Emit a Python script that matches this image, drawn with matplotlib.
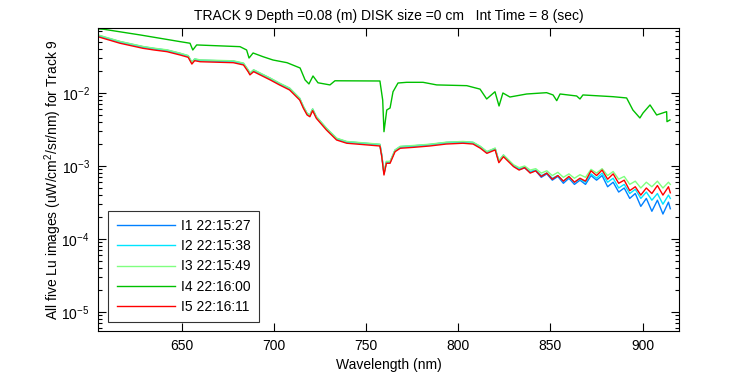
import matplotlib
matplotlib.use('Agg')
import matplotlib.pyplot as plt
from matplotlib.ticker import LogLocator, FixedLocator, NullFormatter, FuncFormatter
import numpy as np

plt.rcParams['font.family'] = ['Liberation Sans', 'DejaVu Sans']
plt.rcParams['mathtext.fontset'] = 'custom'
plt.rcParams['mathtext.rm'] = 'Liberation Sans'
plt.rcParams['mathtext.it'] = 'Liberation Sans'

# upper curve (I4), its own wavelength grid
wl_i4 = [605, 607.5, 627.4, 649.1, 654.5, 656.0, 658.1, 681.6, 685.2, 686.5, 688.7, 694.1,
         699.5, 707.1, 714.2, 716.9, 719.0, 721.2, 723.9, 730.4, 733.1, 757.5, 759.0, 759.7,
         761.2, 763.0, 764.6, 767.3, 772.0, 780.9, 788.3, 804.6, 811.8, 815.4, 819.9, 822.1,
         824.2, 828.0, 837.1, 847.9, 851.4, 853.4, 855.2, 864.2, 866.0, 867.6, 883.9, 891.3,
         894.7, 898.5, 900.2, 904.0, 907.6, 913.0, 913.2, 914.8]
i4 = [0.0754, 0.0747, 0.0624, 0.0505, 0.048, 0.0388, 0.0455, 0.0431, 0.0388, 0.0301, 0.0353, 0.0314,
      0.0283, 0.026, 0.022, 0.0151, 0.0133, 0.0171, 0.0138, 0.0129, 0.0147, 0.0146, 0.008, 0.00295,
      0.00585, 0.00623, 0.0104, 0.0137, 0.014, 0.014, 0.0129, 0.0126, 0.0113, 0.00828, 0.0104, 0.00664,
      0.01, 0.00881, 0.00969, 0.0101, 0.0094, 0.00785, 0.00969, 0.0091, 0.00828, 0.0094, 0.0089, 0.00855,
      0.00585, 0.00455, 0.00532, 0.00686, 0.005, 0.00555, 0.00405, 0.00427]

# lower curves (I1, I2, I3, I5) share one grid
wl = [605, 616.5, 629, 635, 642, 649, 653.5, 655.5, 657, 660, 678, 683.5, 686, 687, 689, 692.5,
      698, 703, 708.5, 714, 716, 718, 719.5, 721, 723, 728.5, 734, 739.5, 757.5, 758.5, 759.7,
      761, 763, 765.7, 768.5, 775.5, 784.5, 793.5, 802.5, 808, 812, 815.5, 820, 822, 824.5,
      830, 833, 836, 839, 842, 845, 848, 851, 854, 857, 860, 863, 866, 869, 872, 875, 878,
      881, 884, 887, 890, 893, 896, 899, 902, 905, 908, 911, 914, 915]

i1 = [0.0612, 0.0505, 0.0430, 0.0407, 0.0386, 0.0349, 0.0323, 0.0262, 0.0291, 0.0281, 0.0273, 0.0254,
      0.0206, 0.0186, 0.0206, 0.0186, 0.0159, 0.0135, 0.0116, 0.0084, 0.0065, 0.00525, 0.00497, 0.00602,
      0.00473, 0.00327, 0.00238, 0.00215, 0.00197, 0.00141, 0.00079, 0.00114, 0.00114, 0.00165, 0.00184,
      0.00189, 0.00197, 0.0021, 0.00215, 0.0021, 0.00184, 0.00156, 0.00174, 0.00117, 0.00141,
      0.00100, 0.00090, 0.00094, 0.00082, 0.00086, 0.00070, 0.00078, 0.00064, 0.00072, 0.00058,
      0.00068, 0.00056, 0.00064, 0.00056, 0.00074, 0.00064, 0.00074, 0.00052, 0.00060, 0.00044,
      0.00050, 0.00036, 0.00042, 0.00028, 0.00036, 0.00024, 0.00034, 0.00022, 0.00032, 0.00026]

i2 = [0.0600, 0.0494, 0.0421, 0.0400, 0.0379, 0.0342, 0.0317, 0.0256, 0.0285, 0.0276, 0.0268, 0.0249,
      0.0202, 0.0182, 0.0202, 0.0182, 0.0156, 0.0133, 0.0113, 0.0082, 0.00636, 0.00515, 0.00487, 0.0059,
      0.00464, 0.0032, 0.00234, 0.00211, 0.00194, 0.00138, 0.00078, 0.00112, 0.00112, 0.00162, 0.0018,
      0.00185, 0.00194, 0.00206, 0.00211, 0.00206, 0.0018, 0.00153, 0.00171, 0.00114, 0.00138,
      0.00101, 0.00092, 0.00096, 0.00084, 0.00088, 0.00074, 0.00080, 0.00068, 0.00074, 0.00062,
      0.00070, 0.00060, 0.00066, 0.00060, 0.00078, 0.00068, 0.00080, 0.00060, 0.00068, 0.00050,
      0.00056, 0.00042, 0.00048, 0.00036, 0.00044, 0.00034, 0.00042, 0.00030, 0.00040, 0.00036]

i3 = [0.0620, 0.0509, 0.0434, 0.0411, 0.0390, 0.0352, 0.0326, 0.0264, 0.0294, 0.0284, 0.0276, 0.0257,
      0.0208, 0.0188, 0.0208, 0.0188, 0.0160, 0.0137, 0.0117, 0.0085, 0.00654, 0.0053, 0.00501, 0.00607,
      0.00477, 0.0033, 0.00241, 0.00217, 0.00199, 0.00142, 0.0008, 0.00116, 0.00116, 0.00166, 0.00186,
      0.00191, 0.00199, 0.00212, 0.00217, 0.00212, 0.00186, 0.00158, 0.00176, 0.00118, 0.00142,
      0.00104, 0.00095, 0.00100, 0.00088, 0.00092, 0.00080, 0.00086, 0.00074, 0.00082, 0.00070,
      0.00078, 0.00068, 0.00076, 0.00070, 0.00090, 0.00080, 0.00092, 0.00074, 0.00084, 0.00066,
      0.00072, 0.00056, 0.00062, 0.00050, 0.00060, 0.00052, 0.00062, 0.00050, 0.00060, 0.00056]

i5 = [0.0585, 0.048, 0.0409, 0.0388, 0.0368, 0.0332, 0.0308, 0.0249, 0.0277, 0.0268, 0.026, 0.0242,
      0.0196, 0.0177, 0.0196, 0.0177, 0.0151, 0.0129, 0.011, 0.008, 0.00617, 0.005, 0.00473, 0.00573,
      0.0045, 0.00311, 0.00227, 0.00205, 0.00188, 0.00134, 0.000753, 0.00109, 0.00109, 0.00157, 0.00175,
      0.0018, 0.00188, 0.0020, 0.00205, 0.0020, 0.00175, 0.00149, 0.00166, 0.00111, 0.00134,
      0.00098, 0.00088, 0.00095, 0.00080, 0.00086, 0.00072, 0.00080, 0.00066, 0.00074, 0.00062,
      0.00072, 0.00060, 0.00068, 0.00062, 0.00086, 0.00074, 0.00088, 0.00066, 0.00078, 0.00058,
      0.00064, 0.00046, 0.00052, 0.00040, 0.00050, 0.00042, 0.00054, 0.00040, 0.00052, 0.00043]

labels = ['I1 22:15:27', 'I2 22:15:38', 'I3 22:15:49', 'I4 22:16:00', 'I5 22:16:11']
colors = ['#0080ff', '#00e5ff', '#80ff80', '#00c000', '#ff0000']

fig = plt.figure(figsize=(7.5, 3.75), dpi=100)
ax = fig.add_axes([0.1307, 0.1173, 0.7746, 0.808])

ax.plot(wl, i1, color=colors[0], lw=1, label=labels[0])
ax.plot(wl, i2, color=colors[1], lw=1, label=labels[1])
ax.plot(wl, i3, color=colors[2], lw=1, label=labels[2])
ax.plot(wl_i4, i4, color=colors[3], lw=1, label=labels[3])
ax.plot(wl, i5, color=colors[4], lw=1, label=labels[4])

ax.set_yscale('log')
ax.set_xlim(604.6, 919.7)
ax.set_ylim(5.5e-6, 0.0776)
ax.set_xticks([650, 700, 750, 800, 850, 900])
ax.yaxis.set_major_locator(FixedLocator([1e-5, 1e-4, 1e-3, 1e-2]))
ax.yaxis.set_major_formatter(FuncFormatter(lambda v, p: r'$\mathregular{10^{%d}}$' % round(np.log10(v))))
ax.yaxis.set_minor_locator(LogLocator(base=10, subs=np.arange(2, 10)))
ax.yaxis.set_minor_formatter(NullFormatter())

ax.tick_params(which='both', direction='in', top=True, right=True, labelsize=10, width=0.8)
ax.tick_params(which='major', length=6, pad=6)
ax.tick_params(which='minor', length=3)
for s in ax.spines.values():
    s.set_linewidth(0.8)

ax.set_xlabel('Wavelength (nm)', fontsize=10, labelpad=3)
ax.set_ylabel(r'All five Lu images (uW/cm$^2$/sr/nm) for Track 9', fontsize=10, labelpad=-2)
ax.set_title('TRACK 9 Depth =0.08 (m) DISK size =0 cm   Int Time = 8 (sec)', fontsize=10, pad=6)

leg = ax.legend(loc='lower left', bbox_to_anchor=(0.0177, 0.0287), borderaxespad=0,
                fontsize=10, handlelength=4.2, handletextpad=0.45, labelspacing=0.45,
                borderpad=0.6, fancybox=False, frameon=True)
leg.get_frame().set_edgecolor('black')
leg.get_frame().set_linewidth(0.8)

fig.savefig('out.png', dpi=100)
